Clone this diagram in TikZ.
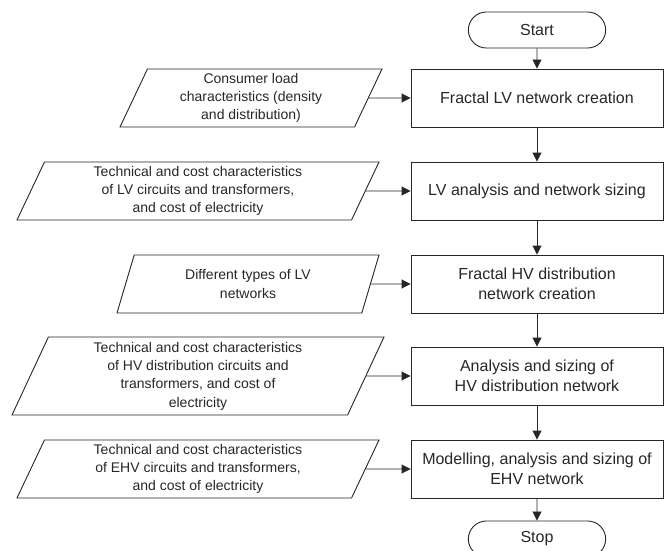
\documentclass[tikz,border=0pt]{standalone}
\usepackage{fontspec}
\setmainfont{Liberation Sans}
\usepackage{tikz}
\usetikzlibrary{arrows.meta,shapes.geometric,shapes.misc}

\begin{document}
\begin{tikzpicture}[x=1pt,y=-1pt,black!85,line width=0.9pt,
  term/.style={draw,rounded rectangle,minimum width=144pt,minimum height=36pt,font=\fontsize{16}{20}\selectfont},
  proc/.style={draw,rectangle,minimum width=252pt,minimum height=58pt,align=center,font=\fontsize{16}{20}\selectfont},
  data/.style={draw,trapezium,trapezium left angle=64,trapezium right angle=116,trapezium stretches body,minimum height=58pt,align=center,font=\fontsize{14}{18.3}\selectfont},
  flow/.style={-{Triangle[length=9pt,width=9pt]}}]
\useasboundingbox (0,0) rectangle (667,551);
% main column
\node[term] (start) at (537,30) {Start};
\node[proc] (lvnet) at (537,98) {Fractal LV network creation};
\node[proc] (lvsize) at (537,191) {LV analysis and network sizing};
\node[proc] (hvnet) at (537,284) {Fractal HV distribution\\network creation};
\node[proc] (hvsize) at (537,376) {Analysis and sizing of\\HV distribution network};
\node[proc] (ehvsize) at (537,469) {Modelling, analysis and sizing of\\EHV network};
\node[term] (stop) at (537,539) {Stop};
% inputs
\node[data,minimum width=262pt] (load) at (251,98) {Consumer load\\characteristics (density\\and distribution)};
\node[data,minimum width=362pt] (lvdata) at (198,191) {Technical and cost characteristics\\of LV circuits and transformers,\\and cost of electricity};
\node[data,minimum width=262pt] (lvtypes) at (248,284) {Different types of LV\\networks};
\node[data,minimum width=372pt,minimum height=78pt] (hvdata) at (198,376) {Technical and cost characteristics\\of HV distribution circuits and\\transformers, and cost of\\electricity};
\node[data,minimum width=362pt] (ehvdata) at (198,469) {Technical and cost characteristics\\of EHV circuits and transformers,\\and cost of electricity};
% connectors
\draw[flow] (start) -- (lvnet);
\draw[flow] (lvnet) -- (lvsize);
\draw[flow] (lvsize) -- (hvnet);
\draw[flow] (hvnet) -- (hvsize);
\draw[flow] (hvsize) -- (ehvsize);
\draw[flow] (ehvsize) -- (stop);
\draw[flow] (load) -- (lvnet);
\draw[flow] (lvdata) -- (lvsize);
\draw[flow] (lvtypes) -- (hvnet);
\draw[flow] (hvdata) -- (hvsize);
\draw[flow] (ehvdata) -- (ehvsize);
\end{tikzpicture}
\end{document}
